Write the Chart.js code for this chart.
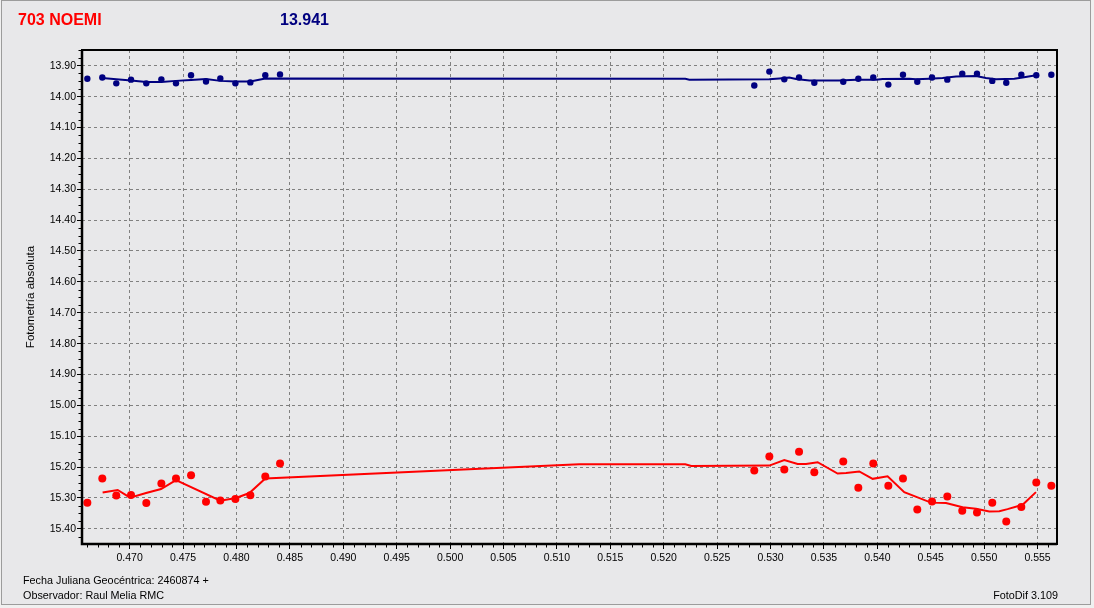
<!DOCTYPE html>
<html><head><meta charset="utf-8">
<script src="https://cdn.jsdelivr.net/npm/chart.js@4.4.1/dist/chart.umd.min.js"></script>
<style>
html,body{margin:0;padding:0;background:#F0F0F0;width:1094px;height:608px;overflow:hidden;font-family:"Liberation Sans",Arial,sans-serif;}
#frame{position:absolute;left:1px;top:0;width:1088px;height:603px;border:1px solid #9C9C9C;background:#E8E8EA;}
canvas{position:absolute;left:0;top:0;}
.t{position:absolute;white-space:nowrap;line-height:1;}
</style></head><body>
<div id="frame"></div>
<canvas id="c" width="1094" height="608"></canvas>
<div class="t" style="left:18px;top:12px;font-size:16px;font-weight:bold;color:#FF0000">703 NOEMI</div>
<div class="t" style="left:280px;top:12px;font-size:16px;font-weight:bold;color:#000080">13.941</div>
<div class="t" style="left:23px;top:575px;font-size:10.8px;color:#000">Fecha Juliana Geocéntrica: 2460874 +</div>
<div class="t" style="left:23px;top:590px;font-size:10.8px;color:#000">Observador: Raul Melia RMC</div>
<div class="t" style="right:36px;top:590px;font-size:10.8px;color:#000">FotoDif 3.109</div>
<script>
// Axis ranges and tick labels
const xMin = 0.46554, xMax = 0.55682;
const yMin = 13.849, yMax = 15.449;
const xTicks = [0.470,0.475,0.480,0.485,0.490,0.495,0.500,0.505,0.510,0.515,0.520,0.525,0.530,0.535,0.540,0.545,0.550,0.555];
const yTicks = [13.90,14.00,14.10,14.20,14.30,14.40,14.50,14.60,14.70,14.80,14.90,15.00,15.10,15.20,15.30,15.40];

// Comparison star (blue) observations
const compJD = [0.46604,0.46744,0.46875,0.47013,0.47156,0.47297,0.47434,0.47575,0.47715,0.47849,0.47990,0.48130,0.48270,0.48408,
  0.52848,0.52989,0.53129,0.53267,0.53410,0.53681,0.53822,0.53962,0.54103,0.54240,0.54374,0.54512,0.54655,0.54795,0.54933,0.55076,0.55207,0.55348,0.55488,0.55629];
const compMag = [13.942,13.938,13.957,13.945,13.957,13.944,13.957,13.931,13.951,13.941,13.957,13.954,13.931,13.928,
  13.964,13.919,13.944,13.938,13.955,13.952,13.942,13.938,13.961,13.929,13.952,13.938,13.945,13.926,13.926,13.949,13.955,13.929,13.931,13.929];

// Target (703 Noemi, red) observations
const targetJD = [0.46604,0.46744,0.46875,0.47013,0.47156,0.47297,0.47434,0.47575,0.47715,0.47849,0.47990,0.48130,0.48270,0.48408,
  0.52848,0.52989,0.53129,0.53267,0.53410,0.53681,0.53822,0.53962,0.54103,0.54240,0.54374,0.54512,0.54655,0.54795,0.54933,0.55076,0.55207,0.55348,0.55488,0.55629];
const targetMag = [15.315,15.237,15.292,15.290,15.316,15.253,15.237,15.226,15.312,15.308,15.303,15.291,15.230,15.188,
  15.211,15.166,15.208,15.150,15.217,15.182,15.267,15.188,15.260,15.237,15.337,15.311,15.295,15.341,15.347,15.315,15.376,15.329,15.250,15.260];

// Smoothed curves
const compFitJD = [0.46744,0.46875,0.47013,0.47156,0.47297,0.47434,0.47575,0.47715,0.47849,0.47990,0.48130,0.48270,0.52202,0.52240,
  0.52989,0.53083,0.53176,0.53239,0.53363,0.53644,0.53800,0.53987,0.54049,0.54299,0.54362,0.54487,0.54611,0.54737,0.54924,0.55017,0.55111,0.55282,0.55360,0.55485];
const compFitMag = [13.940,13.944,13.948,13.953,13.953,13.949,13.946,13.943,13.949,13.951,13.951,13.941,13.942,13.945,
  13.944,13.941,13.938,13.943,13.948,13.948,13.945,13.945,13.943,13.942,13.944,13.942,13.940,13.935,13.933,13.940,13.944,13.942,13.938,13.931];

const targetFitJD = [0.46747,0.46888,0.47004,0.47154,0.47294,0.47434,0.47849,0.47996,0.48121,0.48270,0.51210,0.52202,0.52258,
  0.52989,0.53129,0.53254,0.53332,0.53441,0.53628,0.53707,0.53831,0.53956,0.54096,0.54252,0.54377,0.54502,0.54643,0.54798,0.54924,0.55048,0.55142,0.55219,0.55360,0.55485];
const targetFitMag = [15.282,15.274,15.299,15.284,15.271,15.242,15.309,15.300,15.284,15.237,15.191,15.191,15.196,
  15.195,15.177,15.190,15.190,15.184,15.221,15.219,15.214,15.238,15.230,15.281,15.298,15.315,15.316,15.330,15.335,15.344,15.343,15.336,15.322,15.281];

const toXY = (xs, ys) => xs.map((x, i) => ({x: x, y: ys[i]}));

const NAVY = '#000080', RED = '#FF0000';
const FONT = '"Liberation Sans", Arial, sans-serif';

const framePlugin = {
  id: 'frameAndMinorTicks',
  afterDatasetsDraw(chart) {
    const {ctx, chartArea: a, scales: {x, y}} = chart;
    ctx.save();
    ctx.strokeStyle = '#000';
    ctx.lineWidth = 1;
    ctx.beginPath();
    for (let k = Math.ceil(xMin * 1000); k <= Math.floor(xMax * 1000); k++) {
      if (k % 5 === 0) continue;
      const px = Math.round(x.getPixelForValue(k / 1000)) + 0.5;
      ctx.moveTo(px, a.bottom); ctx.lineTo(px, a.bottom + 3.5);
    }
    for (let k = Math.ceil(yMin * 40); k <= Math.floor(yMax * 40); k++) {
      if (k % 4 === 0) continue;
      const py = Math.round(y.getPixelForValue(k / 40)) + 0.5;
      ctx.moveTo(a.left - 3.5, py); ctx.lineTo(a.left, py);
    }
    ctx.stroke();
    ctx.lineWidth = 2;
    ctx.strokeRect(a.left, a.top, a.right - a.left, a.bottom - a.top);
    ctx.lineWidth = 2.5;
    ctx.beginPath();
    ctx.moveTo(a.left, a.top); ctx.lineTo(a.left, a.bottom); ctx.lineTo(a.right, a.bottom);
    ctx.stroke();
    ctx.restore();
  }
};

new Chart(document.getElementById('c'), {
  type: 'scatter',
  data: {
    datasets: [
      {data: toXY(compFitJD, compFitMag), showLine: true, borderColor: NAVY, borderWidth: 2, pointRadius: 0, tension: 0},
      {data: toXY(compJD, compMag), showLine: false, pointRadius: 3.2, pointStyle: 'circle', backgroundColor: NAVY, borderColor: NAVY, borderWidth: 0},
      {data: toXY(targetFitJD, targetFitMag), showLine: true, borderColor: RED, borderWidth: 2, pointRadius: 0, tension: 0},
      {data: toXY(targetJD, targetMag), showLine: false, pointRadius: 4, pointStyle: 'circle', backgroundColor: RED, borderColor: RED, borderWidth: 0}
    ]
  },
  options: {
    responsive: false,
    devicePixelRatio: 1,
    animation: false,
    layout: {padding: {top: 50, right: 37, left: 0, bottom: 0}},
    plugins: {legend: {display: false}, tooltip: {enabled: false}},
    scales: {
      x: {
        type: 'linear', position: 'bottom', min: xMin, max: xMax,
        afterBuildTicks: s => { s.ticks = xTicks.map(v => ({value: v})); },
        afterFit: s => { s.height = 64; },
        ticks: {callback: v => Number(v).toFixed(3), font: {family: FONT, size: 10.5}, color: '#000', padding: 3, maxRotation: 0, autoSkip: false},
        grid: {color: '#808080', lineWidth: 1, drawTicks: true, tickLength: 5, tickColor: '#000', tickWidth: 1},
        border: {display: false, dash: [3, 3]}
      },
      y: {
        type: 'linear', position: 'left', reverse: true, min: yMin, max: yMax,
        afterBuildTicks: s => { s.ticks = yTicks.map(v => ({value: v})); },
        afterFit: s => { s.width = 82; },
        ticks: {callback: v => Number(v).toFixed(2), font: {family: FONT, size: 10.5}, color: '#000', padding: 1, autoSkip: false},
        grid: {color: '#808080', lineWidth: 1, drawTicks: true, tickLength: 5, tickColor: '#000', tickWidth: 1},
        border: {display: false, dash: [3, 3]},
        title: {display: true, text: 'Fotometría absoluta', font: {family: FONT, size: 11.5}, color: '#000', padding: {top: 24, bottom: 0}}
      }
    }
  },
  plugins: [framePlugin]
});
</script>
</body></html>
